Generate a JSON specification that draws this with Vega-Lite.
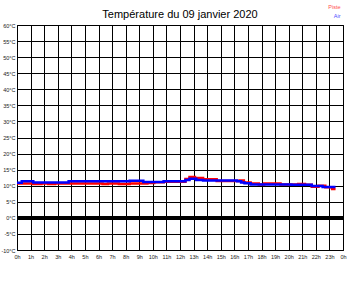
{
  "$schema": "https://vega.github.io/schema/vega-lite/v6.json",
  "width": 326,
  "height": 225,
  "autosize": {"type": "none"},
  "padding": {"left": 17, "top": 25, "right": 17, "bottom": 38},
  "background": "white",
  "title": {
    "text": "Température du 09 janvier 2020",
    "font": "Liberation Sans",
    "fontSize": 11,
    "fontWeight": "normal",
    "color": "black",
    "anchor": "middle",
    "frame": "group",
    "baseline": "alphabetic",
    "offset": -25
  },
  "config": {
    "view": {"stroke": "black", "strokeWidth": 1},
    "axis": {
      "grid": true,
      "gridColor": "black",
      "gridOpacity": 1,
      "gridWidth": 1,
      "domain": false,
      "ticks": false,
      "labelFont": "Liberation Sans",
      "labelFontSize": 5.5,
      "labelColor": "#222",
      "title": null
    }
  },
  "datasets": {
    "temps": [
      {"h": 0.0, "t": 10.7, "s": "Piste"},
      {"h": 1.2, "t": 10.5, "s": "Piste"},
      {"h": 1.8, "t": 10.7, "s": "Piste"},
      {"h": 2.3, "t": 10.5, "s": "Piste"},
      {"h": 2.8, "t": 10.7, "s": "Piste"},
      {"h": 6.3, "t": 10.5, "s": "Piste"},
      {"h": 6.7, "t": 10.7, "s": "Piste"},
      {"h": 7.5, "t": 10.5, "s": "Piste"},
      {"h": 8.3, "t": 10.7, "s": "Piste"},
      {"h": 9.6, "t": 10.85, "s": "Piste"},
      {"h": 10.1, "t": 11.1, "s": "Piste"},
      {"h": 10.8, "t": 11.2, "s": "Piste"},
      {"h": 12.4, "t": 12.1, "s": "Piste"},
      {"h": 12.7, "t": 12.7, "s": "Piste"},
      {"h": 13.1, "t": 12.4, "s": "Piste"},
      {"h": 13.7, "t": 12.0, "s": "Piste"},
      {"h": 14.7, "t": 11.5, "s": "Piste"},
      {"h": 16.4, "t": 11.6, "s": "Piste"},
      {"h": 16.7, "t": 11.0, "s": "Piste"},
      {"h": 17.2, "t": 10.7, "s": "Piste"},
      {"h": 17.8, "t": 10.4, "s": "Piste"},
      {"h": 18.2, "t": 10.7, "s": "Piste"},
      {"h": 19.4, "t": 10.4, "s": "Piste"},
      {"h": 20.7, "t": 10.5, "s": "Piste"},
      {"h": 21.2, "t": 10.3, "s": "Piste"},
      {"h": 21.7, "t": 9.7, "s": "Piste"},
      {"h": 22.2, "t": 10.0, "s": "Piste"},
      {"h": 22.7, "t": 9.5, "s": "Piste"},
      {"h": 23.2, "t": 8.95, "s": "Piste"},
      {"h": 23.45, "t": 8.95, "s": "Piste"},
      {"h": 0.0, "t": 10.9, "s": "Air"},
      {"h": 0.35, "t": 11.4, "s": "Air"},
      {"h": 1.2, "t": 11.0, "s": "Air"},
      {"h": 3.8, "t": 11.4, "s": "Air"},
      {"h": 8.3, "t": 11.55, "s": "Air"},
      {"h": 9.3, "t": 11.15, "s": "Air"},
      {"h": 10.8, "t": 11.4, "s": "Air"},
      {"h": 12.4, "t": 11.8, "s": "Air"},
      {"h": 12.7, "t": 12.2, "s": "Air"},
      {"h": 13.2, "t": 11.8, "s": "Air"},
      {"h": 13.7, "t": 11.6, "s": "Air"},
      {"h": 16.2, "t": 11.4, "s": "Air"},
      {"h": 16.5, "t": 11.0, "s": "Air"},
      {"h": 16.75, "t": 10.8, "s": "Air"},
      {"h": 17.2, "t": 10.35, "s": "Air"},
      {"h": 20.2, "t": 10.3, "s": "Air"},
      {"h": 21.7, "t": 9.9, "s": "Air"},
      {"h": 22.5, "t": 9.6, "s": "Air"},
      {"h": 23.45, "t": 9.6, "s": "Air"}
    ]
  },
  "data": {"name": "temps"},
  "layer": [
    {
      "mark": {"type": "rule", "color": "black", "strokeWidth": 3},
      "encoding": {
        "y": {
          "datum": 0,
          "type": "quantitative",
          "scale": {"domain": [-10, 60], "nice": false, "zero": false},
          "axis": {
            "grid": true,
            "values": [-10,-5,0,5,10,15,20,25,30,35,40,45,50,55,60],
            "labelExpr": "datum.value + '°C'",
            "labelPadding": 2,
            "labelFlush": false,
            "labelOverlap": false
          }
        }
      }
    },
    {
      "transform": [{"filter": "datum.s == 'Piste'"}],
      "mark": {"type": "line", "interpolate": "step-after", "strokeWidth": 2.5},
      "encoding": {
        "x": {
          "field": "h",
          "type": "quantitative",
          "scale": {"domain": [0, 24], "nice": false, "zero": false},
          "axis": {
            "grid": true,
            "values": [0,1,2,3,4,5,6,7,8,9,10,11,12,13,14,15,16,17,18,19,20,21,22,23,24],
            "labelExpr": "datum.value == 24 ? '0h' : datum.value + 'h'",
            "labelPadding": 4,
            "labelFlush": false,
            "labelOverlap": false
          }
        },
        "y": {
          "field": "t",
          "type": "quantitative",
          "scale": {"domain": [-10, 60], "nice": false, "zero": false},
          "axis": {
            "grid": true,
            "values": [-10,-5,0,5,10,15,20,25,30,35,40,45,50,55,60],
            "labelExpr": "datum.value + '°C'",
            "labelPadding": 2,
            "labelFlush": false,
            "labelOverlap": false
          }
        },
        "color": {
          "field": "s",
          "type": "nominal",
          "scale": {"domain": ["Piste", "Air"], "range": ["#ff0000", "#0000ff"]},
          "legend": {
            "orient": "none",
            "legendX": 318,
            "legendY": -21,
            "title": null,
            "symbolSize": 0,
            "symbolStrokeWidth": 0,
            "symbolOpacity": 0,
            "labelOffset": 0,
            "labelAlign": "right",
            "labelFont": "Liberation Sans",
            "labelFontSize": 5.5,
            "rowPadding": 2.5,
            "padding": 0,
            "encode": {
              "labels": {
                "update": {
                  "fill": {"signal": "datum.label === 'Piste' ? '#ff4d4d' : '#4d4dff'"}
                }
              }
            }
          }
        }
      }
    },
    {
      "transform": [{"filter": "datum.s == 'Air'"}],
      "mark": {"type": "line", "interpolate": "step-after", "strokeWidth": 2.5},
      "encoding": {
        "x": {
          "field": "h",
          "type": "quantitative",
          "scale": {"domain": [0, 24], "nice": false, "zero": false},
          "axis": {
            "grid": true,
            "values": [0,1,2,3,4,5,6,7,8,9,10,11,12,13,14,15,16,17,18,19,20,21,22,23,24],
            "labelExpr": "datum.value == 24 ? '0h' : datum.value + 'h'",
            "labelPadding": 4,
            "labelFlush": false,
            "labelOverlap": false
          }
        },
        "y": {
          "field": "t",
          "type": "quantitative",
          "scale": {"domain": [-10, 60], "nice": false, "zero": false},
          "axis": {
            "grid": true,
            "values": [-10,-5,0,5,10,15,20,25,30,35,40,45,50,55,60],
            "labelExpr": "datum.value + '°C'",
            "labelPadding": 2,
            "labelFlush": false,
            "labelOverlap": false
          }
        },
        "color": {"field": "s", "type": "nominal"}
      }
    }
  ]
}
